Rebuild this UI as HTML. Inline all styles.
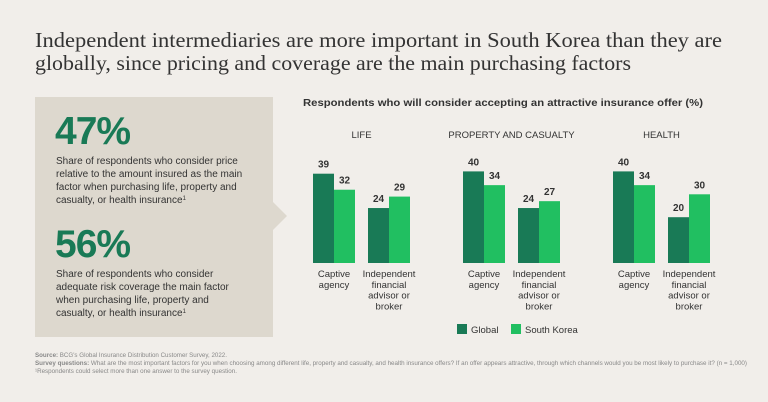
<!DOCTYPE html>
<html><head><meta charset="utf-8"><style>
body{margin:0;background:#f1eeea;}
svg{display:block;font-family:"Liberation Sans",sans-serif;}
</style></head><body>
<svg id="chart" width="768" height="402" viewBox="0 0 768 402">
<rect x="0" y="0" width="768" height="402" fill="#f1eeea"/>
<g font-family="Liberation Serif, serif" font-size="21" fill="#333">
<text x="35" y="47" textLength="687" lengthAdjust="spacingAndGlyphs">Independent intermediaries are more important in South Korea than they are</text>
<text x="35" y="70" textLength="596" lengthAdjust="spacingAndGlyphs">globally, since pricing and coverage are the main purchasing factors</text>
</g>
<g>
<path d="M35 97 H273 V202 L287 216 L273 230 V337 H35 Z" fill="#ddd8ce"/>
<text x="55" y="144" font-size="39" font-weight="bold" fill="#197a56" letter-spacing="-1">47%</text>
<g font-size="10" fill="#333">
<text x="56" y="164">Share of respondents who consider price</text>
<text x="56" y="177">relative to the amount insured as the main</text>
<text x="56" y="190">factor when purchasing life, property and</text>
<text x="56" y="203">casualty, or health insurance<tspan font-size="6" dy="-3">1</tspan></text>
</g>
<text x="55" y="257" font-size="39" font-weight="bold" fill="#197a56" letter-spacing="-1">56%</text>
<g font-size="10" fill="#333">
<text x="56" y="277">Share of respondents who consider</text>
<text x="56" y="290">adequate risk coverage the main factor</text>
<text x="56" y="303">when purchasing life, property and</text>
<text x="56" y="316">casualty, or health insurance<tspan font-size="6" dy="-3">1</tspan></text>
</g>
</g>
<text x="303" y="106" font-size="10.5" font-weight="bold" fill="#333" textLength="400" lengthAdjust="spacingAndGlyphs">Respondents who will consider accepting an attractive insurance offer (%)</text>
<g id="bars"></g>
<g font-size="9.5" fill="#333">
<rect x="457" y="324" width="10" height="10" fill="#197a56"/>
<text x="471" y="333">Global</text>
<rect x="511" y="324" width="10" height="10" fill="#21bf61"/>
<text x="525" y="333">South Korea</text>
</g>
<g font-size="6" fill="#888">
<text x="35" y="357" textLength="192" lengthAdjust="spacingAndGlyphs"><tspan font-weight="bold">Source:</tspan> BCG's Global Insurance Distribution Customer Survey, 2022.</text>
<text x="35" y="365" textLength="712" lengthAdjust="spacingAndGlyphs"><tspan font-weight="bold">Survey questions:</tspan> What are the most important factors for you when choosing among different life, property and casualty, and health insurance offers? If an offer appears attractive, through which channels would you be most likely to purchase it? (n = 1,000)</text>
<text x="35" y="373" textLength="202" lengthAdjust="spacingAndGlyphs">¹Respondents could select more than one answer to the survey question.</text>
</g>
</svg>
<script>
const groups = ["LIFE","PROPERTY AND CASUALTY","HEALTH"];
const channels = ["Captive agency","Independent financial advisor or broker"];
const globalVals = [[39,24],[40,24],[40,20]];
const koreaVals = [[32,29],[34,27],[34,30]];
const ns="http://www.w3.org/2000/svg";
const g=document.getElementById('bars');
const baseY=263, scale=2.29, barW=21;
function yScale(v){return baseY - v*scale;}
function groupX(i){return 313 + i*150;}
function chanX(j){return j*55;}
function mk(tag,attrs,txt){const e=document.createElementNS(ns,tag);for(const k in attrs)e.setAttribute(k,attrs[k]);if(txt!==undefined)e.textContent=txt;g.appendChild(e);return e;}
const catLines=[["Captive","agency"],["Independent","financial","advisor or","broker"]];
groups.forEach((name,i)=>{
  const gx=groupX(i);
  const t=mk('text',{x:gx+48.5,y:138,'text-anchor':'middle','font-size':'9.5',fill:'#333'},name);
  
  
  channels.forEach((c,j)=>{
    const x=gx+chanX(j);
    [[globalVals[i][j],'#197a56','global'],[koreaVals[i][j],'#21bf61','korea']].forEach((s,k)=>{
      const bx=x+k*barW, y=yScale(s[0]);
      const r=mk('rect',{x:bx,y:y,width:barW,height:baseY-y,fill:s[1]});
      
      
      const lt=mk('text',{x:bx+barW/2,y:y-6,'text-anchor':'middle','font-size':'10','font-weight':'bold',fill:'#333'},s[0]);
      
      
    });
    catLines[j].forEach((ln,l)=>{
      const ct=mk('text',{x:x+barW,y:277+l*10.8,'text-anchor':'middle','font-size':'9.5',fill:'#333'},ln);
      
      
    });
  });
});
</script>
</body></html>
